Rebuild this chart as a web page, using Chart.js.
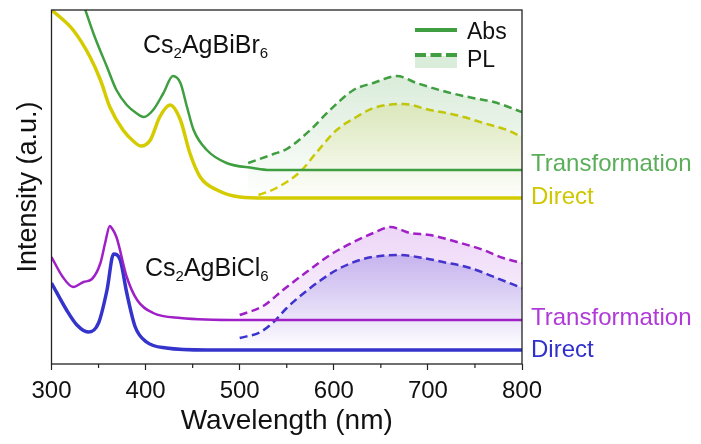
<!DOCTYPE html>
<html><head><meta charset="utf-8">
<script src="https://cdn.jsdelivr.net/npm/chart.js@4/dist/chart.umd.min.js"></script>
<style>html,body{margin:0;padding:0;background:#fff}</style>
</head><body>
<canvas id="c" width="701" height="444"></canvas>
<script>
// ---- data (wavelength in nm, intensity in a.u.) ----
const xTicks = [300, 400, 500, 600, 700, 800];
const minorTicks = [350, 450, 550, 650, 750];

const brTransAbsX = [300, 320, 336, 346, 359, 369, 380, 390, 398, 408, 419, 429, 437, 444, 451, 465, 486, 514, 532, 600, 700, 800];
const brTransAbsY = [450, 400, 354, 327, 297, 274, 259, 251, 247, 254, 271, 288, 281, 257, 234, 214, 201, 196, 194, 194, 194, 194];

const brDirectAbsX = [300, 309, 323, 341, 352, 362, 376, 388, 395, 405, 415, 426, 437, 447, 458, 476, 500, 528, 600, 700, 800];
const brDirectAbsY = [354, 347, 334, 307, 284, 257, 234, 222, 218, 224, 247, 259, 244, 211, 187, 174, 167, 166, 166, 166, 166];

const brTransPLX = [509, 536, 550, 575, 596, 621, 642, 667, 688, 720, 748, 770, 800];
const brTransPLY = [201, 210, 215, 234, 254, 274, 281, 288, 281, 272, 266, 262, 252];

const brDirectPLX = [520, 539, 564, 582, 603, 624, 642, 674, 702, 720, 738, 759, 784, 800];
const brDirectPLY = [169, 176, 192, 212, 234, 247, 256, 260, 254, 251, 247, 241, 234, 227];

const clTransAbsX = [300, 312, 323, 334, 343, 352, 357, 362, 364, 369, 380, 391, 408, 437, 500, 600, 700, 800];
const clTransAbsY = [107, 87, 77, 82, 85, 101, 121, 138, 136, 127, 87, 64, 51, 46, 44, 44, 44, 44];

const clDirectAbsX = [300, 316, 327, 339, 350, 359, 366, 373, 380, 389, 401, 422, 465, 600, 800];
const clDirectAbsY = [81, 54, 39, 32, 41, 74, 110, 104, 71, 37, 22, 16, 14, 14, 14];

const clTransPLX = [500, 525, 546, 571, 596, 621, 642, 660, 681, 702, 731, 759, 780, 800];
const clTransPLY = [49, 58, 74, 92, 109, 122, 131, 137, 131, 129, 122, 114, 106, 101];

const clDirectPLX = [500, 522, 536, 550, 575, 603, 631, 649, 670, 695, 716, 745, 773, 800];
const clDirectPLY = [26, 32, 42, 56, 76, 94, 105, 108, 109, 106, 102, 96, 86, 76];

const brLabel = ['Cs', '2', 'AgBiBr', '6'];
const clLabel = ['Cs', '2', 'AgBiCl', '6'];
const sideLabels = ['Transformation', 'Direct', 'Transformation', 'Direct'];
const legendLabels = ['Abs', 'PL'];

// ---- styling ----
const FONT = "'Liberation Sans', Arial, sans-serif";
const C = {
  green: '#3f9e3f', yellow: '#d4cc00', purple: '#a020c8', blue: '#3434cc',
  greenT: '#5aae5a', yellowT: '#cfc700', purpleT: '#b03ad8', blueT: '#3030cc'
};

function pts(xs, ys) { return xs.map((x, i) => ({x: x, y: ys[i]})); }

function grad(rgb, a, topVal, baseVal) {
  return (ctx) => {
    const chart = ctx.chart;
    if (!chart.chartArea) return 'rgba(0,0,0,0)';
    const y = chart.scales.y;
    const g = chart.ctx.createLinearGradient(0, y.getPixelForValue(topVal), 0, y.getPixelForValue(baseVal));
    g.addColorStop(0, 'rgba(' + rgb + ',' + a + ')');
    g.addColorStop(1, 'rgba(' + rgb + ',0)');
    return g;
  };
}

const absDs = (data, color, w) => ({data: data, borderColor: color, borderWidth: w, pointRadius: 0, fill: false, cubicInterpolationMode: 'monotone', clip: 0});
const plDs = (data, color, bg, base) => ({data: data, borderColor: color, borderWidth: 2.5, borderDash: [8, 4.5], pointRadius: 0, fill: {value: base}, backgroundColor: bg, cubicInterpolationMode: 'monotone', clip: 0});

const decor = {
  id: 'decor',
  afterDraw(chart) {
    const ctx = chart.ctx, a = chart.chartArea, xs = chart.scales.x;
    ctx.save();
    // frame
    ctx.strokeStyle = '#222'; ctx.lineWidth = 1.3;
    ctx.strokeRect(a.left, a.top, a.right - a.left, a.bottom - a.top);
    // minor ticks
    ctx.lineWidth = 1.2;
    minorTicks.forEach(v => {
      const px = xs.getPixelForValue(v);
      ctx.beginPath(); ctx.moveTo(px, a.bottom); ctx.lineTo(px, a.bottom + 4); ctx.stroke();
    });
    // chemical labels
    function chem(parts, x, y) {
      ctx.fillStyle = '#111'; ctx.textBaseline = 'alphabetic'; ctx.textAlign = 'left';
      parts.forEach((p, i) => {
        const sub = i % 2 === 1;
        ctx.font = (sub ? '15px ' : '25px ') + FONT;
        ctx.fillText(p, x, y + (sub ? 5 : 0));
        x += ctx.measureText(p).width;
      });
    }
    chem(brLabel, 143, 53);
    chem(clLabel, 145, 276);
    // side labels
    ctx.font = '24px ' + FONT;
    const cols = [C.greenT, C.yellowT, C.purpleT, C.blueT];
    const ys = [171, 204, 325, 357];
    sideLabels.forEach((t, i) => { ctx.fillStyle = cols[i]; ctx.fillText(t, 531, ys[i]); });
    // legend
    ctx.fillStyle = 'rgba(70,160,70,0.2)';
    ctx.fillRect(415, 56, 42, 12);
    ctx.strokeStyle = C.green; ctx.lineWidth = 4;
    ctx.beginPath(); ctx.moveTo(415, 30); ctx.lineTo(457, 30); ctx.stroke();
    ctx.setLineDash([11, 4.5]);
    ctx.beginPath(); ctx.moveTo(415, 55); ctx.lineTo(457, 55); ctx.stroke();
    ctx.setLineDash([]);
    ctx.fillStyle = '#111'; ctx.font = '23px ' + FONT;
    ctx.fillText(legendLabels[0], 467, 39);
    ctx.fillText(legendLabels[1], 467, 67);
    ctx.restore();
  }
};

new Chart(document.getElementById('c'), {
  type: 'line',
  data: {
    datasets: [
      absDs(pts(brTransAbsX, brTransAbsY), C.green, 2.5),
      absDs(pts(brDirectAbsX, brDirectAbsY), C.yellow, 3.5),
      absDs(pts(clTransAbsX, clTransAbsY), C.purple, 2.5),
      absDs(pts(clDirectAbsX, clDirectAbsY), C.blue, 3.5),
      plDs(pts(brTransPLX, brTransPLY), C.green, grad('70,160,70', 0.2, 288, 164), 164),
      plDs(pts(brDirectPLX, brDirectPLY), C.yellow, grad('205,195,0', 0.18, 260, 164), 164),
      plDs(pts(clTransPLX, clTransPLY), C.purple, grad('165,45,215', 0.2, 137, 14), 14),
      plDs(pts(clDirectPLX, clDirectPLY), C.blue, grad('60,60,205', 0.26, 109, 14), 14)
    ]
  },
  options: {
    responsive: false, animation: false, devicePixelRatio: 1,
    layout: {padding: {top: 10, right: 179, left: 0, bottom: 0}},
    plugins: {legend: {display: false}, tooltip: {enabled: false}},
    scales: {
      x: {
        type: 'linear', min: 300, max: 800,
        afterBuildTicks: s => { s.ticks = xTicks.map(v => ({value: v})); },
        ticks: {font: {size: 24, family: FONT}, color: '#111', padding: 7, maxRotation: 0, autoSkip: false},
        grid: {drawOnChartArea: false, drawTicks: true, tickLength: 6, tickColor: '#222', tickWidth: 1.2},
        border: {display: false},
        title: {display: true, text: 'Wavelength (nm)', font: {size: 28, family: FONT}, color: '#111', padding: {top: 0, bottom: 6}},
        afterFit: s => { s.height = 80; }
      },
      y: {
        min: 0, max: 354,
        ticks: {display: false},
        grid: {display: false},
        border: {display: false},
        title: {display: true, text: 'Intensity (a.u.)', font: {size: 27, family: FONT}, color: '#111', padding: {top: 12, bottom: 0}},
        afterFit: s => { s.width = 51.5; }
      }
    }
  },
  plugins: [decor]
});
</script>
</body></html>
